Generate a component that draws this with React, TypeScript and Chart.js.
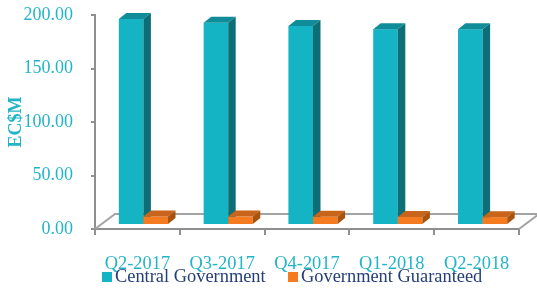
import React, { useEffect, useRef } from 'react';
import { Chart, registerables } from 'chart.js';

Chart.register(...registerables);

// ---- data ----
const categories = ['Q2-2017', 'Q3-2017', 'Q4-2017', 'Q1-2018', 'Q2-2018'];
const centralGovernment = [192.5, 189.0, 186.0, 183.0, 183.0];
const governmentGuaranteed = [8.0, 7.9, 7.7, 7.5, 7.3];
const seriesNames = ['Central Government', 'Government Guaranteed'];
const yMin = 0;
const yMax = 200;
const yStep = 50;

// ---- style ----
const W = 537;
const H = 289;
const FRONT = ['#14b4c4', '#f47b20'];
const TOP = ['#108d98', '#c9651b'];
const SIDE = ['#0d6e76', '#a8540f'];
const DEPTH_X = 7.5;
const DEPTH_Y = 6;
const SHIFT_X = 6;
const SHIFT_Y = -4;
const FLOOR_X = 20;
const FLOOR_Y = 15;
const TEAL_TEXT = '#22b5c7';
const LEGEND_TEXT = '#243f77';
const AXIS_GREY = '#8f8f8f';
const SERIF = '"Liberation Serif", "Times New Roman", serif';
const LEGEND_X = [102, 288];
const LEGEND_Y = 272;
const LEGEND_FONT = 18.4;

const bars3d = {
  id: 'bars3d',
  beforeDatasetsDraw(chart: any) {
    const { ctx, chartArea } = chart;
    const l = chartArea.left;
    const r = chartArea.right;
    const b = chartArea.bottom;
    ctx.save();
    ctx.strokeStyle = '#a3a3a3';
    ctx.lineWidth = 2;
    ctx.beginPath();
    ctx.moveTo(l, b);
    ctx.lineTo(l + FLOOR_X, b - FLOOR_Y);
    ctx.lineTo(r + FLOOR_X, b - FLOOR_Y);
    ctx.lineTo(r, b);
    ctx.stroke();
    ctx.restore();
  },
  beforeDatasetDraw() {
    return false;
  },
  afterDatasetsDraw(chart: any) {
    const ctx = chart.ctx;
    ctx.save();
    ctx.translate(SHIFT_X, SHIFT_Y);
    const n = chart.data.labels.length;
    for (let i = 0; i < n; i++) {
      chart.data.datasets.forEach((_ds: any, di: number) => {
        const meta = chart.getDatasetMeta(di);
        const el: any = meta.data[i];
        if (!el) return;
        const { x, y, base, width } = el.getProps(['x', 'y', 'base', 'width'], true);
        const x1 = x - width / 2;
        const x2 = x + width / 2;
        ctx.fillStyle = FRONT[di];
        ctx.fillRect(x1, y, width, base - y);
        ctx.fillStyle = TOP[di];
        ctx.beginPath();
        ctx.moveTo(x1, y);
        ctx.lineTo(x1 + DEPTH_X, y - DEPTH_Y);
        ctx.lineTo(x2 + DEPTH_X, y - DEPTH_Y);
        ctx.lineTo(x2, y);
        ctx.closePath();
        ctx.fill();
        ctx.fillStyle = SIDE[di];
        ctx.beginPath();
        ctx.moveTo(x2, y);
        ctx.lineTo(x2 + DEPTH_X, y - DEPTH_Y);
        ctx.lineTo(x2 + DEPTH_X, base - DEPTH_Y);
        ctx.lineTo(x2, base);
        ctx.closePath();
        ctx.fill();
      });
    }
    ctx.restore();
  },
  afterDraw(chart: any) {
    const ctx = chart.ctx;
    ctx.save();
    ctx.font = LEGEND_FONT + 'px ' + SERIF;
    ctx.textBaseline = 'middle';
    ctx.textAlign = 'left';
    chart.data.datasets.forEach((ds: any, di: number) => {
      ctx.fillStyle = FRONT[di];
      ctx.fillRect(LEGEND_X[di], LEGEND_Y, 10, 10);
      ctx.fillStyle = LEGEND_TEXT;
      ctx.fillText(ds.label, LEGEND_X[di] + 13, LEGEND_Y + 5);
    });
    ctx.restore();
  },
};

export default function App() {
  const ref = useRef<HTMLCanvasElement | null>(null);

  useEffect(() => {
    if (!ref.current) return;
    const chart = new Chart(ref.current, {
      type: 'bar',
      data: {
        labels: categories,
        datasets: [
          { label: seriesNames[0], data: centralGovernment, backgroundColor: FRONT[0], borderWidth: 0 },
          { label: seriesNames[1], data: governmentGuaranteed, backgroundColor: FRONT[1], borderWidth: 0 },
        ],
      },
      options: {
        responsive: false,
        animation: false,
        layout: { padding: { top: 15, right: 18, left: 0, bottom: 14 } },
        datasets: {
          bar: { categoryPercentage: 0.58, barPercentage: 1.0 },
        },
        plugins: {
          legend: { display: false },
          tooltip: { enabled: false },
        },
        scales: {
          x: {
            grid: {
              offset: true,
              drawOnChartArea: false,
              drawTicks: true,
              tickLength: 6,
              color: AXIS_GREY,
              lineWidth: 2,
            },
            border: { display: true, color: AXIS_GREY, width: 2 },
            ticks: {
              color: TEAL_TEXT,
              padding: 18,
              maxRotation: 0,
              autoSkip: false,
              font: { family: SERIF, size: 18.4 },
            },
            afterFit: (s: any) => {
              s.height = 46;
            },
          },
          y: {
            min: yMin,
            max: yMax,
            grid: {
              drawOnChartArea: false,
              drawTicks: true,
              tickLength: 4,
              color: AXIS_GREY,
              lineWidth: 2,
            },
            border: { display: true, color: AXIS_GREY, width: 2 },
            ticks: {
              stepSize: yStep,
              color: TEAL_TEXT,
              padding: 18,
              font: { family: SERIF, size: 18 },
              callback: (v: any) => Number(v).toFixed(2),
            },
            title: {
              display: true,
              text: 'EC$M',
              color: TEAL_TEXT,
              padding: { top: 6, bottom: 0 },
              font: { family: SERIF, size: 18, weight: 'bold' },
            },
            afterFit: (s: any) => {
              s.width = 95;
              s.paddingTop = 0;
              s.paddingBottom = 0;
            },
          },
        },
      },
      plugins: [bars3d],
    });
    return () => chart.destroy();
  }, []);

  return (
    <div style={{ position: 'absolute', left: 0, top: 0, width: W, height: H }}>
      <canvas ref={ref} width={W} height={H} style={{ width: W, height: H, display: 'block' }} />
    </div>
  );
}
